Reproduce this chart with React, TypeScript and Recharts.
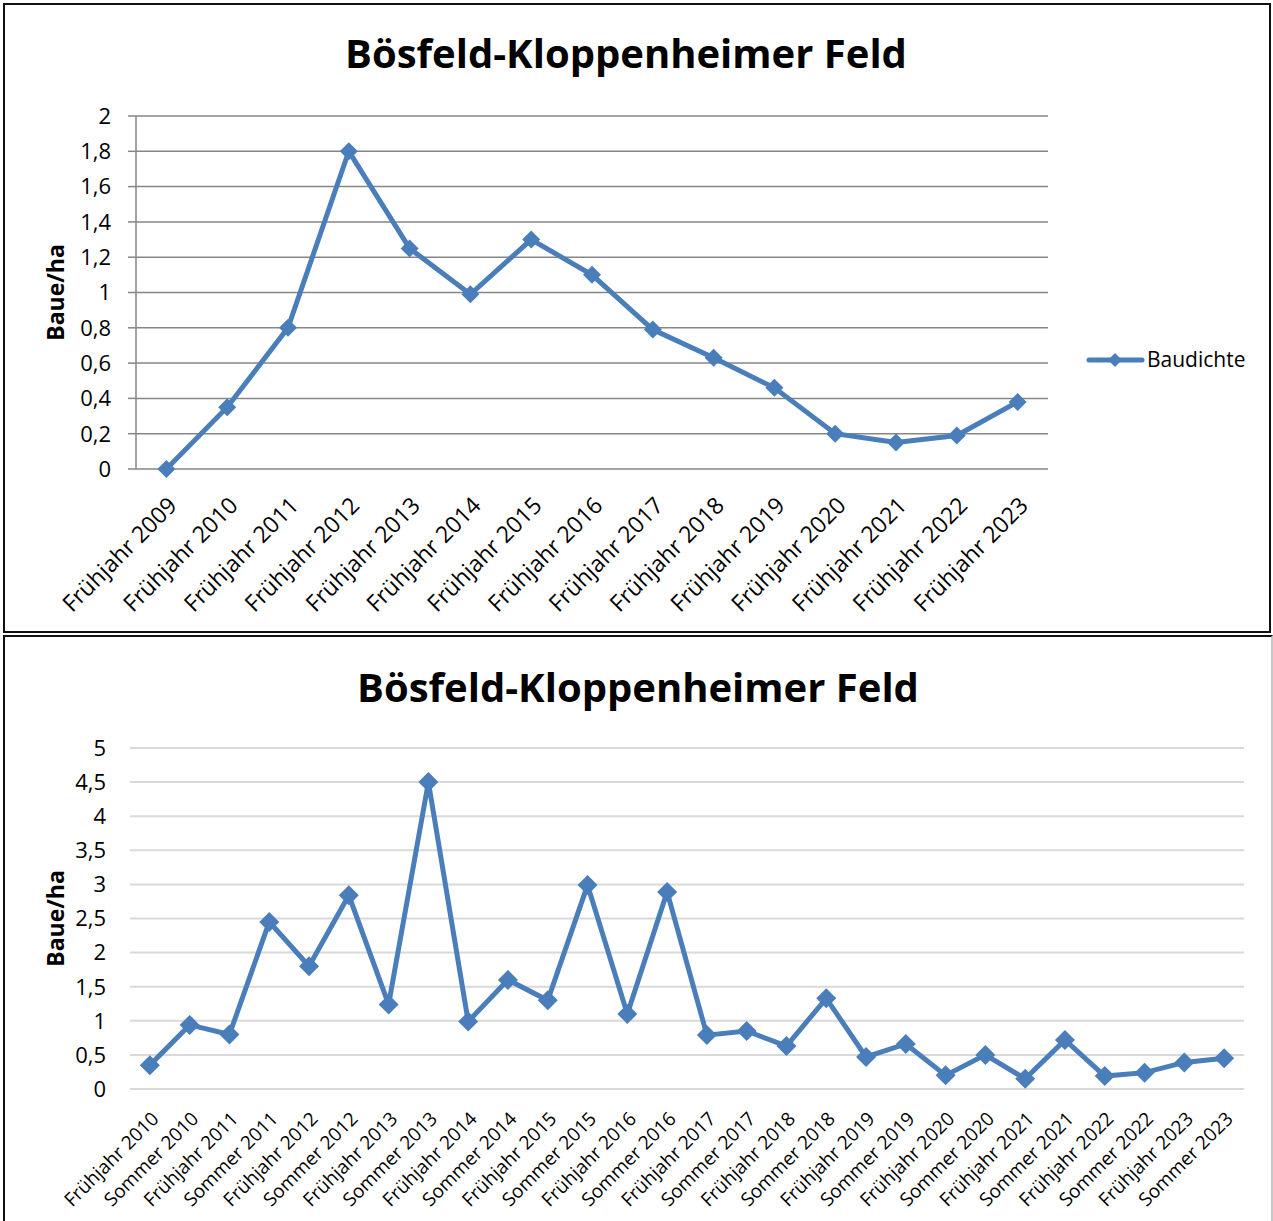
import React from 'react';
import { LineChart, Line, XAxis, YAxis, CartesianGrid, Label } from 'recharts';

const springCategories = [
  'Frühjahr 2009', 'Frühjahr 2010', 'Frühjahr 2011', 'Frühjahr 2012', 'Frühjahr 2013',
  'Frühjahr 2014', 'Frühjahr 2015', 'Frühjahr 2016', 'Frühjahr 2017', 'Frühjahr 2018',
  'Frühjahr 2019', 'Frühjahr 2020', 'Frühjahr 2021', 'Frühjahr 2022', 'Frühjahr 2023',
];
const springValues = [0, 0.35, 0.8, 1.8, 1.25, 0.99, 1.3, 1.1, 0.79, 0.63, 0.46, 0.2, 0.15, 0.19, 0.38];
const springTicks = [0, 0.2, 0.4, 0.6, 0.8, 1, 1.2, 1.4, 1.6, 1.8, 2];

const seasonCategories = [
  'Frühjahr 2010', 'Sommer 2010', 'Frühjahr 2011', 'Sommer 2011', 'Frühjahr 2012', 'Sommer 2012',
  'Frühjahr 2013', 'Sommer 2013', 'Frühjahr 2014', 'Sommer 2014', 'Frühjahr 2015', 'Sommer 2015',
  'Frühjahr 2016', 'Sommer 2016', 'Frühjahr 2017', 'Sommer 2017', 'Frühjahr 2018', 'Sommer 2018',
  'Frühjahr 2019', 'Sommer 2019', 'Frühjahr 2020', 'Sommer 2020', 'Frühjahr 2021', 'Sommer 2021',
  'Frühjahr 2022', 'Sommer 2022', 'Frühjahr 2023', 'Sommer 2023',
];
const seasonValues = [
  0.35, 0.94, 0.8, 2.45, 1.8, 2.84, 1.24, 4.5, 0.99, 1.6, 1.3, 2.99, 1.1, 2.89,
  0.79, 0.85, 0.63, 1.33, 0.47, 0.66, 0.2, 0.5, 0.15, 0.72, 0.19, 0.24, 0.39, 0.45,
];
const seasonTicks = [0, 0.5, 1, 1.5, 2, 2.5, 3, 3.5, 4, 4.5, 5];

const TITLE = 'Bösfeld-Kloppenheimer Feld';
const SERIES = 'Baudichte';
const Y_TITLE = 'Baue/ha';

const BLUE = '#4a7ebb';
const FONT = '"Open Sans", sans-serif';

const springData = springCategories.map((name, i) => ({ name, value: springValues[i] }));
const seasonData = seasonCategories.map((name, i) => ({ name, value: seasonValues[i] }));
const edgeTicks = springCategories.map((_, i) => i).concat(springCategories.length);

const comma = (v: number) => String(v).replace('.', ',');

const diamond = (s: number) => (props: any) => {
  const { cx, cy, index } = props;
  if (cx == null || cy == null) return <g key={index} />;
  return (
    <path
      key={index}
      d={`M${cx},${cy - s}L${cx + s},${cy}L${cx},${cy + s}L${cx - s},${cy}Z`}
      fill={BLUE}
    />
  );
};

const slantTick = (dx: number, size: number) => (props: any) => {
  const { x, y, payload } = props;
  const px = x + dx;
  return (
    <text
      x={px}
      y={y}
      transform={`rotate(-45 ${px} ${y})`}
      textAnchor="end"
      fontSize={size}
      fontFamily={FONT}
      fill="#000"
    >
      {payload.value}
    </text>
  );
};

const yTitle = (props: any) => {
  const vb = props.viewBox;
  const cy = vb.y + vb.height / 2;
  return (
    <text
      x={50}
      y={cy}
      transform={`rotate(-90 50 ${cy})`}
      textAnchor="middle"
      dominantBaseline="central"
      fontSize={23}
      fontWeight="bold"
      fontFamily={FONT}
      fill="#000"
    >
      {Y_TITLE}
    </text>
  );
};

const App: React.FC = () => {
  return (
    <div style={{ position: 'absolute', left: 0, top: 0, width: 1273, height: 1221, background: '#fff', overflow: 'hidden' }}>
      <div style={{ position: 'absolute', left: 3, top: 3, width: 1268, height: 630, boxSizing: 'border-box', border: '2px solid #111' }}>
        <LineChart width={1264} height={626} data={springData} margin={{ top: 111, right: 221, bottom: 12, left: 0 }}>
          <CartesianGrid vertical={false} stroke="#868686" strokeWidth={1.5} />
          <XAxis
            xAxisId="edges"
            type="number"
            domain={[0, springCategories.length]}
            ticks={edgeTicks}
            height={0}
            tick={() => <g />}
            tickSize={8}
            axisLine={{ stroke: '#868686', strokeWidth: 1.5 }}
            tickLine={{ stroke: '#868686', strokeWidth: 1.5 }}
          />
          <XAxis
            dataKey="name"
            scale="band"
            interval={0}
            height={150}
            axisLine={false}
            tickLine={false}
            tickSize={0}
            tickMargin={38}
            tick={slantTick(12, 23)}
          />
          <YAxis
            domain={[0, 2]}
            ticks={springTicks}
            width={131}
            tickSize={8}
            tickMargin={17}
            tickFormatter={comma}
            axisLine={{ stroke: '#868686', strokeWidth: 1.5 }}
            tickLine={{ stroke: '#868686', strokeWidth: 1.5 }}
            tick={{ fontSize: 22, fontFamily: FONT, fill: '#000' }}
          >
            <Label content={yTitle} />
          </YAxis>
          <Line
            dataKey="value"
            name={SERIES}
            stroke={BLUE}
            strokeWidth={5}
            dot={diamond(9)}
            activeDot={false}
            isAnimationActive={false}
          />
        </LineChart>
      </div>

      <div style={{ position: 'absolute', left: 3, top: 635, width: 1270, height: 600, boxSizing: 'border-box', borderLeft: '2px solid #111', borderTop: '2px solid #111', borderRight: '2px solid #c8c8c8' }}>
        <LineChart width={1266} height={584} data={seasonData} margin={{ top: 111, right: 27, bottom: 12, left: 0 }}>
          <CartesianGrid vertical={false} stroke="#d9d9d9" strokeWidth={2} />
          <XAxis
            dataKey="name"
            scale="band"
            interval={0}
            height={120}
            axisLine={false}
            tickLine={false}
            tickSize={0}
            tickMargin={31}
            tick={slantTick(10, 19)}
          />
          <YAxis
            domain={[0, 5]}
            ticks={seasonTicks}
            width={125}
            tickSize={0}
            tickMargin={24}
            tickFormatter={comma}
            axisLine={false}
            tickLine={false}
            tick={{ fontSize: 22, fontFamily: FONT, fill: '#000' }}
          >
            <Label content={yTitle} />
          </YAxis>
          <Line
            dataKey="value"
            name={SERIES}
            stroke={BLUE}
            strokeWidth={5}
            dot={diamond(10)}
            activeDot={false}
            isAnimationActive={false}
          />
        </LineChart>
      </div>

      <svg width={1273} height={1221} style={{ position: 'absolute', left: 0, top: 0, pointerEvents: 'none' }}>
        <text x={626} y={68} textAnchor="middle" fontSize={40} fontWeight="bold" fontFamily={FONT} fill="#000">
          {TITLE}
        </text>
        <text x={638} y={702} textAnchor="middle" fontSize={40} fontWeight="bold" fontFamily={FONT} fill="#000">
          {TITLE}
        </text>
        <line x1={1089} y1={360} x2={1142} y2={360} stroke={BLUE} strokeWidth={5} strokeLinecap="round" />
        <path d="M1115,353L1122,360L1115,367L1108,360Z" fill={BLUE} />
        <text x={1147} y={367} fontSize={21} fontFamily={FONT} fill="#000">
          {SERIES}
        </text>
      </svg>
    </div>
  );
};

export default App;
